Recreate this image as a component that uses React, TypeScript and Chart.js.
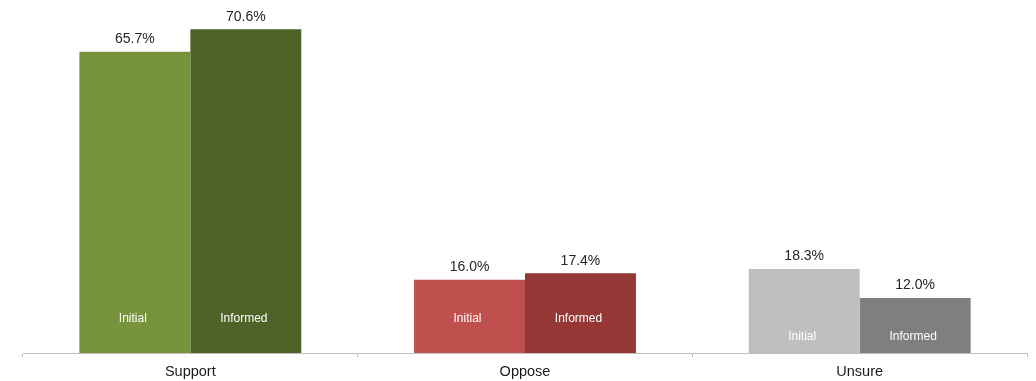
import React, { useEffect, useRef } from "react";
import { Chart, registerables } from "chart.js";

Chart.register(...registerables);

const categories = ["Support", "Oppose", "Unsure"];
const seriesNames = ["Initial", "Informed"];
const initialValues = [65.7, 16.0, 18.3];
const informedValues = [70.6, 17.4, 12.0];
const initialColors = ["#77933c", "#c0504d", "#bfbfbf"];
const informedColors = ["#4f6228", "#953735", "#7f7f7f"];

const innerLabelLift = [34, 34, 16];

const labelPlugin = {
  id: "barLabels",
  afterDatasetsDraw(chart: any) {
    const ctx = chart.ctx;
    const bottom = chart.chartArea.bottom;
    ctx.save();
    chart.data.datasets.forEach((ds: any, di: number) => {
      const meta = chart.getDatasetMeta(di);
      meta.data.forEach((el: any, i: number) => {
        const v = ds.data[i];
        ctx.textAlign = "center";
        ctx.textBaseline = "middle";
        ctx.fillStyle = "#262626";
        ctx.font = "14px 'Liberation Sans', Arial, sans-serif";
        ctx.fillText(v.toFixed(1) + "%", el.x, el.y - 12.5);
        ctx.fillStyle = "#ffffff";
        ctx.font = "12px 'Liberation Sans', Arial, sans-serif";
        ctx.fillText(ds.label, el.x - 2, bottom - innerLabelLift[i]);
      });
    });
    ctx.restore();
  },
};

export default function App() {
  const ref = useRef<HTMLCanvasElement>(null);
  useEffect(() => {
    if (!ref.current) return;
    const chart = new Chart(ref.current, {
      type: "bar",
      data: {
        labels: categories,
        datasets: [
          {
            label: seriesNames[0],
            data: initialValues,
            backgroundColor: initialColors,
            categoryPercentage: 0.663,
            barPercentage: 1.0,
          },
          {
            label: seriesNames[1],
            data: informedValues,
            backgroundColor: informedColors,
            categoryPercentage: 0.663,
            barPercentage: 1.0,
          },
        ],
      },
      options: {
        animation: false,
        responsive: false,
        maintainAspectRatio: false,
        layout: { padding: { left: 23, right: 9, top: 0, bottom: 0 } },
        plugins: {
          legend: { display: false },
          tooltip: { enabled: false },
        },
        scales: {
          x: {
            grid: {
              display: true,
              drawOnChartArea: false,
              drawTicks: true,
              tickLength: 4,
              offset: true,
              color: "#bfbfbf",
            },
            border: { display: true, color: "#bfbfbf", width: 1 },
            ticks: {
              color: "#1a1a1a",
              font: { size: 14.5, family: "'Liberation Sans', Arial, sans-serif" },
              padding: 6,
            },
            afterFit: (s: any) => {
              s.height = 28;
            },
          },
          y: {
            display: false,
            min: 0,
            max: 77,
          },
        },
      },
      plugins: [labelPlugin],
    });
    return () => chart.destroy();
  }, []);
  return (
    <div style={{ position: "absolute", left: 0, top: 0, width: 1036, height: 381, background: "#fff" }}>
      <canvas ref={ref} width={1036} height={381} />
    </div>
  );
}
